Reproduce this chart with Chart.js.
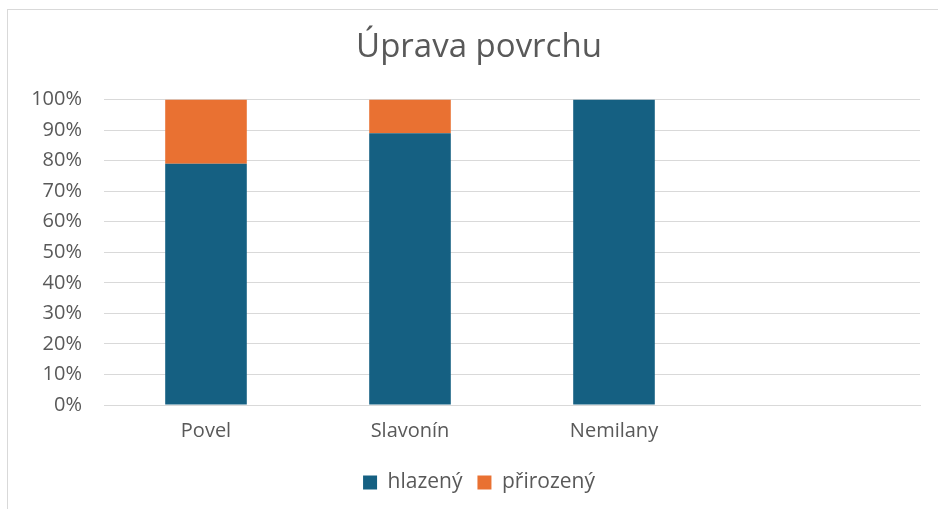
<!DOCTYPE html>
<html>
<head>
<meta charset="utf-8">
<script src="https://cdn.jsdelivr.net/npm/chart.js@4"></script>
<style>
  html, body { margin: 0; padding: 0; background: #fff; overflow: hidden; }
  #box {
    position: absolute; left: 7px; top: 9px;
    width: 942px; height: 500px;
    border-left: 1px solid #d9d9d9; border-top: 1px solid #d9d9d9;
  }
</style>
</head>
<body>
<div id="box"><canvas id="chart" width="942" height="500"></canvas></div>
<script>
const categories = ["Povel", "Slavonín", "Nemilany", ""];
const hlazeny = [79, 89, 100, null];
const prirozeny = [21, 11, 0, null];
const yTicks = [0, 10, 20, 30, 40, 50, 60, 70, 80, 90, 100];

const gray = "#595959";
const font = "Open Sans";

new Chart(document.getElementById("chart"), {
  type: "bar",
  data: {
    labels: categories,
    datasets: [
      { label: "hlazený", data: hlazeny, backgroundColor: "#156082", borderWidth: 0 },
      { label: "přirozený", data: prirozeny, backgroundColor: "#e97132", borderWidth: 0 },
    ],
  },
  options: {
    responsive: false,
    animation: false,
    layout: { padding: { bottom: 7 } },
    datasets: { bar: { categoryPercentage: 1, barPercentage: 0.4 } },
    scales: {
      x: {
        stacked: true,
        grid: { display: false, drawTicks: false },
        border: { color: "#d9d9d9" },
        ticks: { color: gray, font: { family: font, size: 20 }, padding: 14 },
      },
      y: {
        stacked: true,
        min: 0,
        max: 100,
        afterFit: (scale) => { scale.width = 96; },
        afterBuildTicks: (scale) => { scale.ticks = yTicks.map((v) => ({ value: v })); },
        grid: { color: "#d9d9d9", drawTicks: false },
        border: { display: false },
        ticks: {
          color: gray,
          font: { family: font, size: 20 },
          padding: 22,
          callback: (v) => v + "%",
        },
      },
      // empty right-hand spacer so the plot ends short of the canvas edge
      spacer: {
        type: "linear",
        position: "right",
        afterFit: (scale) => { scale.width = 30; },
        grid: { display: false, drawTicks: false },
        border: { display: false },
        ticks: { display: false },
      },
    },
    plugins: {
      title: {
        display: true,
        text: "Úprava povrchu",
        color: gray,
        font: { family: font, size: 33, weight: "normal" },
        padding: { top: 18, bottom: 32 },
      },
      legend: {
        position: "bottom",
        labels: {
          color: gray,
          font: { family: font, size: 21 },
          boxWidth: 14,
          boxHeight: 14,
          padding: 15,
        },
      },
      tooltip: { enabled: false },
    },
  },
});
</script>
</body>
</html>
